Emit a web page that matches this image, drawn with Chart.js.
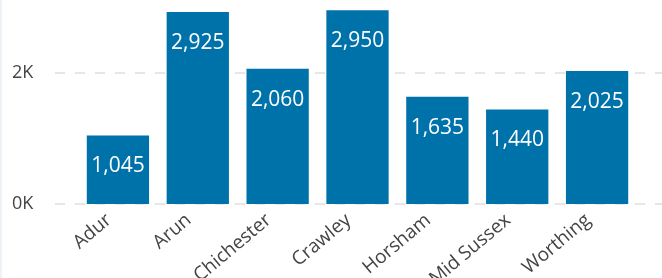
<!DOCTYPE html>
<html>
<head>
    <meta charset="UTF-8">
    <title>West Sussex districts</title>
    <script src="https://cdn.jsdelivr.net/npm/chart.js@4.4.0/dist/chart.umd.min.js"></script>
    <style>
      html, body { margin: 0; padding: 0; background: #fff; }
      .wrap { position: relative; width: 660px; height: 278px; border-left: 2px solid #eef3f8; }
    </style>
</head>
<body>
    <div class="wrap">
        <canvas id="myChart" width="660" height="278"></canvas>
    </div>

  <script>
      const districts = ['Adur', 'Arun', 'Chichester', 'Crawley', 'Horsham', 'Mid Sussex', 'Worthing'];
      const counts = [1045, 2925, 2060, 2950, 1635, 1440, 2025];
      const yTicks = [0, 2000];

      const barColor = '#0072aa';
      const fontFamily = "'Open Sans', 'Noto Sans', sans-serif";

      // dashed horizontal lines that run past the bars, like the original
      const dashedGrid = {
          id: 'dashedGrid',
          beforeDatasetsDraw(chart) {
              const ctx = chart.ctx;
              const y = chart.scales.y;
              ctx.save();
              ctx.strokeStyle = '#e6e6e6';
              ctx.lineWidth = 2;
              ctx.setLineDash([10, 10]);
              yTicks.forEach(v => {
                  const py = Math.round(y.getPixelForValue(v));
                  ctx.beginPath();
                  ctx.moveTo(53, py);
                  ctx.lineTo(chart.width, py);
                  ctx.stroke();
              });
              ctx.restore();
          }
      };

      // value labels inside the top of each bar
      const barLabels = {
          id: 'barLabels',
          afterDatasetsDraw(chart) {
              const ctx = chart.ctx;
              const meta = chart.getDatasetMeta(0);
              ctx.save();
              ctx.fillStyle = '#ffffff';
              ctx.font = '21px ' + fontFamily;
              ctx.textAlign = 'center';
              ctx.textBaseline = 'middle';
              meta.data.forEach((bar, i) => {
                  ctx.fillText(counts[i].toLocaleString('en-GB'), bar.x, bar.y + 31);
              });
              ctx.restore();
          }
      };

      const ctx = document.getElementById('myChart').getContext('2d');
      const myChart = new Chart(ctx, {
          type: 'bar',
          data: {
              labels: districts,
              datasets: [{
                  data: counts,
                  backgroundColor: barColor,
                  borderWidth: 0,
                  categoryPercentage: 1,
                  barPercentage: 0.78
              }]
          },
          options: {
              responsive: false,
              animation: false,
              layout: { padding: { left: 10, right: 25, top: 7, bottom: 0 } },
              plugins: {
                  legend: { display: false },
                  tooltip: { enabled: false }
              },
              scales: {
                  x: {
                      grid: { display: false },
                      border: { display: false },
                      ticks: {
                          color: '#444',
                          font: { family: fontFamily, size: 19 },
                          minRotation: 40,
                          maxRotation: 40,
                          autoSkip: false,
                          padding: -3,
                          labelOffset: -9
                      },
                      afterFit(scale) {
                          scale.height = 74;
                          scale.paddingLeft = 0;
                          scale.paddingRight = 0;
                      }
                  },
                  y: {
                      min: 0,
                      max: 3000,
                      grid: { display: false },
                      border: { display: false },
                      ticks: {
                          crossAlign: 'far',
                          color: '#444',
                          font: { family: fontFamily, size: 18 },
                          callback: v => (v / 1000) + 'K'
                      },
                      afterBuildTicks(scale) {
                          scale.ticks = yTicks.map(v => ({ value: v }));
                      },
                      afterFit(scale) {
                          scale.width = 66;
                          scale.paddingTop = 0;
                          scale.paddingBottom = 0;
                      }
                  }
              }
          },
          plugins: [dashedGrid, barLabels]
      });
  </script>
</body>
</html>
